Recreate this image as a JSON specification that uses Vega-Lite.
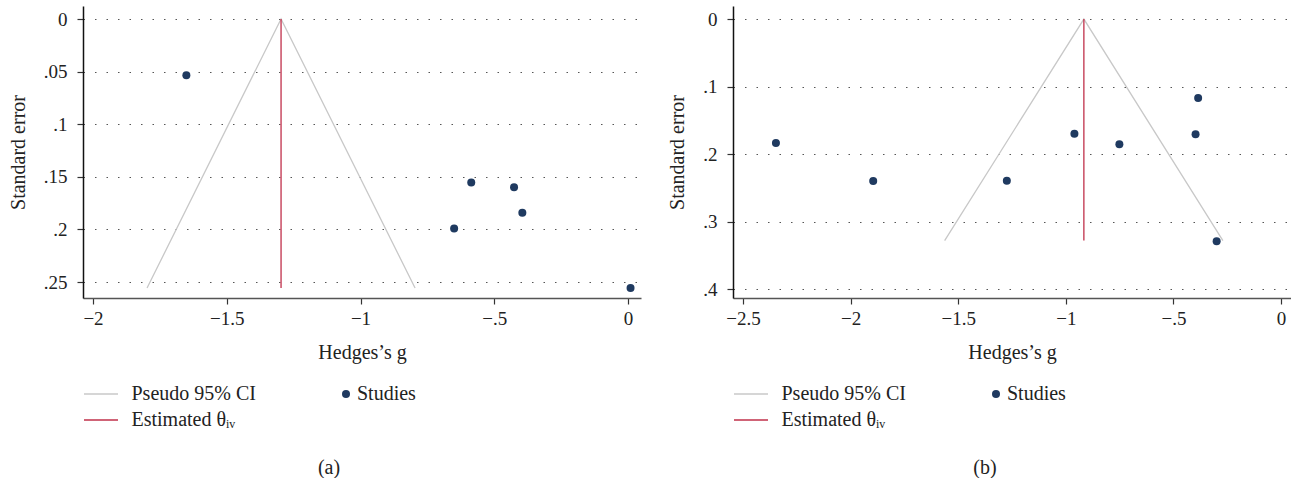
{
  "$schema": "https://vega.github.io/schema/vega-lite/v6.json",
  "background": "white",
  "padding": {"left": 8, "top": 6, "right": 0, "bottom": 0},
  "spacing": 26,
  "config": {
    "font": "Liberation Serif",
    "view": {"stroke": null},
    "axis": {
      "labelFont": "Liberation Serif", "titleFont": "Liberation Serif",
      "labelFontSize": 19, "titleFontSize": 20, "titleFontWeight": "normal",
      "labelColor": "#222", "titleColor": "#222",
      "domainColor": "#333", "tickColor": "#333", "domainWidth": 1.5, "tickWidth": 1.2, "tickSize": 6
    },
    "axisY": {"grid": true, "gridDash": [1.5, 10], "gridColor": "#555", "gridWidth": 1, "labelPadding": 10, "titlePadding": 15, "domainColor": "#111"},
    "axisX": {"grid": false, "labelPadding": 5, "titlePadding": 14, "domainColor": "#555"},
    "legend": {"labelFont": "Liberation Serif", "labelFontSize": 20, "labelColor": "#222", "padding": 0, "rowPadding": 6, "titlePadding": 0},
    "title": {"font": "Liberation Serif", "fontSize": 20, "fontWeight": "normal", "color": "#222"}
  },
  "datasets": {
    "studiesA": [
      {"g": -1.651, "se": 0.0534},
      {"g": -0.586, "se": 0.1553},
      {"g": -0.426, "se": 0.1598},
      {"g": -0.395, "se": 0.1842},
      {"g": -0.650, "se": 0.1992},
      {"g": 0.0095, "se": 0.2557}
    ],
    "funnelA": [
      {"series": "Pseudo 95% CI", "g": -1.798, "se": 0.2557, "ord": 1},
      {"series": "Pseudo 95% CI", "g": -1.297, "se": 0, "ord": 2},
      {"series": "Pseudo 95% CI", "g": -0.796, "se": 0.2557, "ord": 3},
      {"series": "Estimated θᵢᵥ", "g": -1.297, "se": 0, "ord": 1},
      {"series": "Estimated θᵢᵥ", "g": -1.297, "se": 0.2557, "ord": 2}
    ],
    "studiesB": [
      {"g": -2.347, "se": 0.1834},
      {"g": -1.895, "se": 0.2399},
      {"g": -1.274, "se": 0.2394},
      {"g": -0.960, "se": 0.170},
      {"g": -0.751, "se": 0.1854},
      {"g": -0.385, "se": 0.117},
      {"g": -0.397, "se": 0.1705},
      {"g": -0.299, "se": 0.329}
    ],
    "funnelB": [
      {"series": "Pseudo 95% CI", "g": -1.563, "se": 0.328, "ord": 1},
      {"series": "Pseudo 95% CI", "g": -0.916, "se": 0, "ord": 2},
      {"series": "Pseudo 95% CI", "g": -0.27, "se": 0.328, "ord": 3},
      {"series": "Estimated θᵢᵥ", "g": -0.916, "se": 0, "ord": 1},
      {"series": "Estimated θᵢᵥ", "g": -0.916, "se": 0.328, "ord": 2}
    ]
  },
  "resolve": {
    "scale": {"color": "independent", "shape": "independent", "x": "independent", "y": "independent"},
    "legend": {"color": "independent", "shape": "independent"}
  },
  "hconcat": [
    {
      "width": 558, "height": 292,
      "title": {"text": "(a)", "orient": "bottom", "offset": 28, "dx": -33},
      "layer": [
        {
          "data": {"name": "funnelA"},
          "mark": {"type": "line", "strokeWidth": 1.3},
          "encoding": {
            "x": {"field": "g", "type": "quantitative",
              "scale": {"domain": [-2.0374, 0.0486], "nice": false, "zero": false},
              "axis": {"title": "Hedges’s g", "values": [-2, -1.5, -1, -0.5, 0],
                "labelExpr": "datum.value == 0 ? '0' : (datum.value < 0 ? '−' : '') + replace(format(abs(datum.value), '~g'), '0.', '.')"}},
            "y": {"field": "se", "type": "quantitative",
              "scale": {"domain": [-0.0124, 0.2652], "reverse": true, "nice": false, "zero": false},
              "axis": {"title": "Standard error", "values": [0, 0.05, 0.1, 0.15, 0.2, 0.25],
                "labelExpr": "datum.value == 0 ? '0' : replace(format(datum.value, '.2~f'), '0.', '.')"}},
            "color": {"field": "series", "type": "nominal",
              "scale": {"domain": ["Pseudo 95% CI", "Estimated θᵢᵥ"], "range": ["#c8c8c8", "#c0304a"]},
              "legend": {"title": null, "orient": "none", "legendX": 8, "legendY": 378,
                "symbolType": "M-2,0H2", "symbolSize": 289, "symbolStrokeWidth": 1.5, "labelOffset": 20.5}},
            "order": {"field": "ord", "type": "quantitative"}
          }
        },
        {
          "data": {"name": "studiesA"},
          "mark": {"type": "point", "filled": true, "size": 64, "opacity": 1, "color": "#1f3a60"},
          "encoding": {
            "x": {"field": "g", "type": "quantitative"},
            "y": {"field": "se", "type": "quantitative"},
            "shape": {"datum": "Studies", "scale": {"range": ["circle"]},
              "legend": {"title": null, "orient": "none", "legendX": 253, "legendY": 378,
                "symbolSize": 64, "symbolFillColor": "#1f3a60", "symbolStrokeWidth": 0, "labelOffset": 1}}
          }
        }
      ]
    },
    {
      "width": 558, "height": 292,
      "title": {"text": "(b)", "orient": "bottom", "offset": 28, "dx": -27},
      "layer": [
        {
          "data": {"name": "funnelB"},
          "mark": {"type": "line", "strokeWidth": 1.3},
          "encoding": {
            "x": {"field": "g", "type": "quantitative",
              "scale": {"domain": [-2.5465, 0.0465], "nice": false, "zero": false},
              "axis": {"title": "Hedges’s g", "values": [-2.5, -2, -1.5, -1, -0.5, 0],
                "labelExpr": "datum.value == 0 ? '0' : (datum.value < 0 ? '−' : '') + replace(format(abs(datum.value), '~g'), '0.', '.')"}},
            "y": {"field": "se", "type": "quantitative",
              "scale": {"domain": [-0.0193, 0.413], "reverse": true, "nice": false, "zero": false},
              "axis": {"title": "Standard error", "values": [0, 0.1, 0.2, 0.3, 0.4],
                "labelExpr": "datum.value == 0 ? '0' : replace(format(datum.value, '.2~f'), '0.', '.')"}},
            "color": {"field": "series", "type": "nominal",
              "scale": {"domain": ["Pseudo 95% CI", "Estimated θᵢᵥ"], "range": ["#c8c8c8", "#c0304a"]},
              "legend": {"title": null, "orient": "none", "legendX": 8, "legendY": 378,
                "symbolType": "M-2,0H2", "symbolSize": 289, "symbolStrokeWidth": 1.5, "labelOffset": 20.5}},
            "order": {"field": "ord", "type": "quantitative"}
          }
        },
        {
          "data": {"name": "studiesB"},
          "mark": {"type": "point", "filled": true, "size": 64, "opacity": 1, "color": "#1f3a60"},
          "encoding": {
            "x": {"field": "g", "type": "quantitative"},
            "y": {"field": "se", "type": "quantitative"},
            "shape": {"datum": "Studies", "scale": {"range": ["circle"]},
              "legend": {"title": null, "orient": "none", "legendX": 253, "legendY": 378,
                "symbolSize": 64, "symbolFillColor": "#1f3a60", "symbolStrokeWidth": 0, "labelOffset": 1}}
          }
        }
      ]
    }
  ]
}
